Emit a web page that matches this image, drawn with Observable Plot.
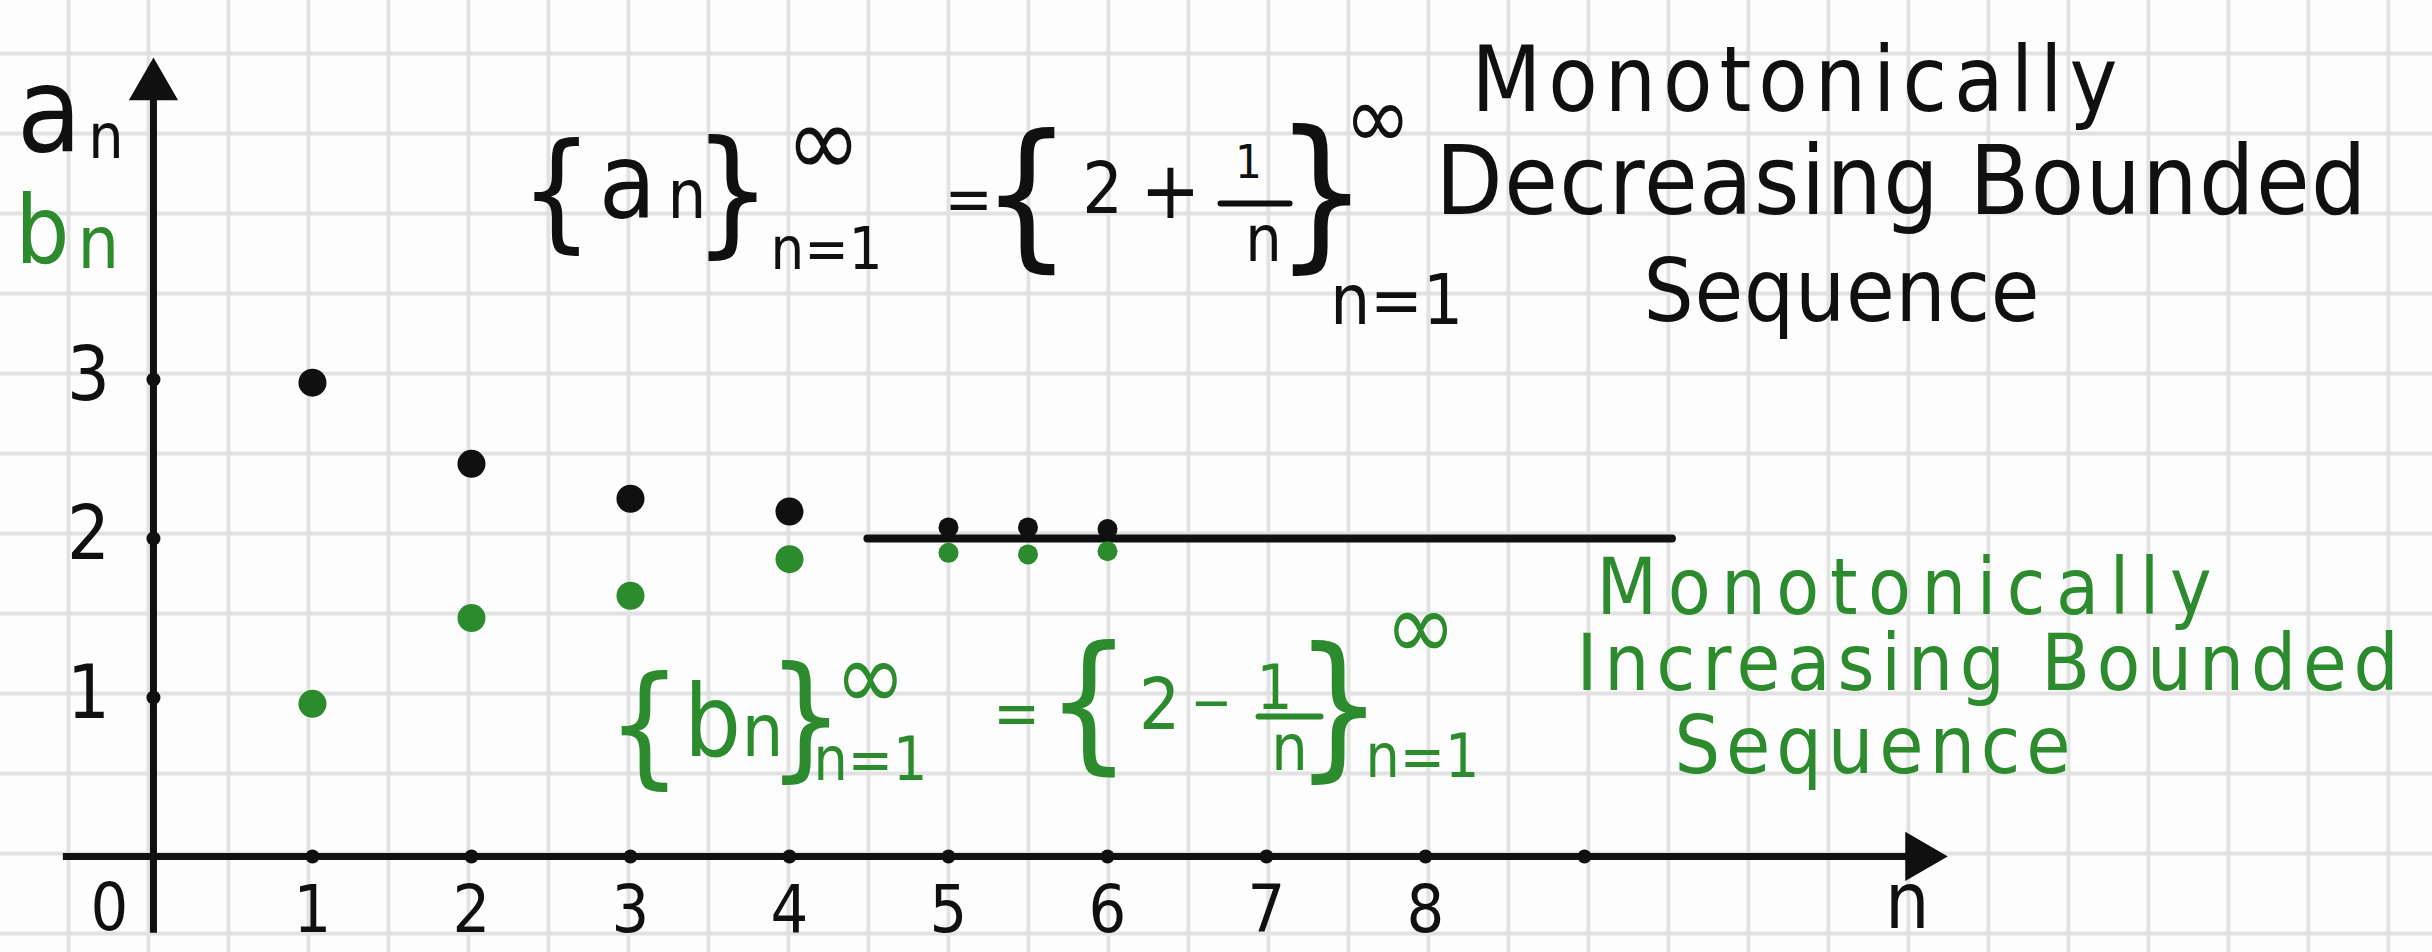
<!DOCTYPE html>
<html>
<head>
<meta charset="utf-8">
<script src="https://cdn.jsdelivr.net/npm/d3@7"></script>
<script src="https://cdn.jsdelivr.net/npm/@observablehq/plot@0.6"></script>
<style>
  html, body { margin: 0; padding: 0; background: #fdfdfd; }
  #chart svg { display: block; }
</style>
</head>
<body>
<div id="chart"></div>
<script>
// ---- sequence terms -------------------------------------------------------
const nValues = [1, 2, 3, 4];
const aValues = [2.98, 2.47, 2.25, 2.17];   // a_n = 2 + 1/n (decreasing)
const bValues = [0.96, 1.50, 1.64, 1.87];   // b_n = 2 - 1/n (increasing)

// the "..." terms crowding onto the bound
const tailN = [5, 5.5, 6];
const tailA = [2.07, 2.07, 2.06];
const tailB = [1.91, 1.90, 1.92];

// common bound y = 2
const boundValue = 2;
const boundFrom = 4.49;
const boundTo = 9.55;

// axes
const xTicks = [1, 2, 3, 4, 5, 6, 7, 8, 9];
const xTickLabels = ["1", "2", "3", "4", "5", "6", "7", "8"];
const yTicks = [1, 2, 3];
const yTickLabels = ["1", "2", "3"];
const xAxisFrom = -0.57, xAxisTip = 11.27;
const yAxisFrom = -0.48, yAxisTip = 5.01;

// ---- page layout ----------------------------------------------------------
const W = 2432, H = 952;
const xDomain = [-0.962, 14.333];
const yDomain = [-0.604, 5.384];
const pxPerUnit = W / (xDomain[1] - xDomain[0]);

const INK = "#101010";
const GREEN = "#2b8b2d";
const GRID = "#e2e2e2";
const FONT = "'DejaVu Sans Condensed', 'DejaVu Sans', sans-serif";

// graph-paper grid, one square per half unit
const gridStep = 0.5031;
const gridX = d3.range(-2, 29).map(k => -0.031 + k * gridStep);
const gridY = d3.range(0, 12).map(k => 5.050 - k * gridStep);

// written descriptions beside each sequence (w = line width in n units)
const descriptions = [
  {t: "Monotonically", x: 8.289, y: 4.692, w: 4.063, s: 90, c: INK},
  {t: "Decreasing Bounded", x: 8.063, y: 4.044, w: 5.855, s: 97, c: INK},
  {t: "Sequence", x: 9.371, y: 3.371, w: 2.491, s: 88, c: INK},
  {t: "Monotonically", x: 9.075, y: 1.528, w: 3.868, s: 78, c: GREEN},
  {t: "Increasing Bounded", x: 8.950, y: 1.050, w: 5.170, s: 79, c: GREEN},
  {t: "Sequence", x: 9.566, y: 0.522, w: 2.491, s: 80, c: GREEN}
];

// {a_n} = {2 + 1/n} and {b_n} = {2 - 1/n}, piece by piece
const formulaA = [
  {t: "{", x: 2.535, y: 3.906, s: 128},
  {t: "a", x: 2.981, y: 4.013, s: 104},
  {t: "n", x: 3.355, y: 4.019, s: 68},
  {t: "}", x: 3.642, y: 3.893, s: 138},
  {t: "∞", x: 4.214, y: 4.283, s: 100},
  {t: "n=1", x: 4.233, y: 3.698, s: 59},
  {t: "=", x: 5.126, y: 3.994, s: 64},
  {t: "{", x: 5.491, y: 3.818, s: 160},
  {t: "2", x: 5.969, y: 4.050, s: 71},
  {t: "+", x: 6.396, y: 4.019, s: 80},
  {t: "1", x: 6.887, y: 4.270, s: 47},
  {t: "n", x: 6.981, y: 3.748, s: 64},
  {t: "}", x: 7.346, y: 3.818, s: 165},
  {t: "∞", x: 7.698, y: 4.459, s: 89},
  {t: "n=1", x: 7.818, y: 3.352, s: 70}
];
const formulaB = [
  {t: "{", x: 3.088, y: 0.547, s: 131},
  {t: "b", x: 3.516, y: 0.629, s: 100},
  {t: "n", x: 3.830, y: 0.629, s: 73},
  {t: "}", x: 4.101, y: 0.585, s: 135},
  {t: "∞", x: 4.509, y: 0.925, s: 95},
  {t: "n=1", x: 4.509, y: 0.484, s: 60},
  {t: "=", x: 5.428, y: 0.767, s: 62},
  {t: "{", x: 5.881, y: 0.648, s: 150},
  {t: "2", x: 6.327, y: 0.799, s: 72},
  {t: "−", x: 6.654, y: 0.849, s: 55},
  {t: "1", x: 7.050, y: 0.925, s: 63},
  {t: "n", x: 7.145, y: 0.547, s: 64},
  {t: "}", x: 7.453, y: 0.616, s: 156},
  {t: "∞", x: 7.969, y: 1.239, s: 95},
  {t: "n=1", x: 7.981, y: 0.503, s: 60}
];
const fractionBars = [
  {x1: 6.711, x2: 7.145, y: 4.107, c: INK},
  {x1: 6.950, x2: 7.340, y: 0.881, c: GREEN}
];

// axis titles a_n / b_n
const axisTitles = [
  {t: "a", x: -0.860, y: 4.440, s: 118, c: INK},
  {t: "n", x: -0.410, y: 4.396, s: 62, c: INK},
  {t: "b", x: -0.870, y: 3.730, s: 95, c: GREEN},
  {t: "n", x: -0.478, y: 3.704, s: 73, c: GREEN}
];

// ---- tables for the marks -------------------------------------------------
const aTerms = nValues.map((n, i) => ({n, v: aValues[i]}));
const bTerms = nValues.map((n, i) => ({n, v: bValues[i]}));
const aTail = tailN.map((n, i) => ({n, v: tailA[i]}));
const bTail = tailN.map((n, i) => ({n, v: tailB[i]}));
const xLabelRows = xTickLabels.map((t, i) => ({n: xTicks[i], t}));
const yLabelRows = yTickLabels.map((t, i) => ({v: yTicks[i], t}));

const isBrace = t => t === "{" || t === "}";
const textPieces = (rows, color) => rows.map(p =>
  Plot.text([p], {
    x: "x", y: "y", text: "t", fontSize: p.s, fill: color,
    fontFamily: FONT, fontWeight: isBrace(p.t) ? 300 : 400,
    textAnchor: "middle", lineAnchor: "bottom"
  }));

const chart = Plot.plot({
  width: W,
  height: H,
  margin: 0,
  x: {domain: xDomain, axis: null},
  y: {domain: yDomain, axis: null},
  style: {background: "#fdfdfd", overflow: "hidden"},
  marks: [
    // graph paper
    Plot.ruleX(gridX, {stroke: GRID, strokeWidth: 4}),
    Plot.ruleY(gridY, {stroke: GRID, strokeWidth: 4}),

    // axes with arrowheads
    Plot.link([{x1: xAxisFrom, x2: xAxisTip - 0.12, y: 0}],
      {x1: "x1", x2: "x2", y1: "y", y2: "y", stroke: INK, strokeWidth: 7}),
    Plot.link([{y1: yAxisFrom, y2: yAxisTip - 0.12, x: 0}],
      {y1: "y1", y2: "y2", x1: "x", x2: "x", stroke: INK, strokeWidth: 7}),
    Plot.dot([{x: xAxisTip, y: 0}],
      {x: "x", y: "y", symbol: "triangle", r: 17, rotate: 90, dx: -26, fill: INK, stroke: INK, strokeWidth: 2}),
    Plot.dot([{x: 0, y: yAxisTip}],
      {x: "x", y: "y", symbol: "triangle", r: 17, dy: 26, fill: INK, stroke: INK, strokeWidth: 2}),
    Plot.dot(xTicks, {x: d => d, y: 0, r: 7, fill: INK}),
    Plot.dot(yTicks, {x: 0, y: d => d, r: 7, fill: INK}),

    // tick labels
    Plot.text(xLabelRows, {x: "n", y: -0.478, text: "t", fontSize: 66, fill: INK,
      fontFamily: FONT, lineAnchor: "bottom"}),
    Plot.text(["0"], {x: -0.277, y: -0.465, text: d => d, fontSize: 66, fill: INK,
      fontFamily: FONT, lineAnchor: "bottom"}),
    Plot.text(["n"], {x: 11.03, y: -0.453, text: d => d, fontSize: 78, fill: INK,
      fontFamily: FONT, lineAnchor: "bottom"}),
    Plot.text(yLabelRows, {x: -0.409, y: d => d.v - 0.126, text: "t", fontSize: 75, fill: INK,
      fontFamily: FONT, lineAnchor: "bottom"}),

    // axis titles
    ...axisTitles.map(p => Plot.text([p], {x: "x", y: "y", text: "t", fontSize: p.s, fill: p.c,
      fontFamily: FONT, textAnchor: "start", lineAnchor: "bottom"})),

    // the bound
    Plot.link([{x1: boundFrom, x2: boundTo, y: boundValue}],
      {x1: "x1", x2: "x2", y1: "y", y2: "y", stroke: INK, strokeWidth: 8, strokeLinecap: "round"}),

    // sequence terms
    Plot.dot(aTerms, {x: "n", y: "v", r: 14, fill: INK}),
    Plot.dot(bTerms, {x: "n", y: "v", r: 14, fill: GREEN}),
    Plot.dot(aTail, {x: "n", y: "v", r: 10, fill: INK}),
    Plot.dot(bTail, {x: "n", y: "v", r: 10, fill: GREEN}),

    // formulas
    ...textPieces(formulaA, INK),
    ...textPieces(formulaB, GREEN),
    ...fractionBars.map(b => Plot.link([b],
      {x1: "x1", x2: "x2", y1: "y", y2: "y", stroke: b.c, strokeWidth: 6, strokeLinecap: "round"})),

    // descriptions
    ...descriptions.map(d => Plot.text([d], {x: "x", y: "y", text: "t",
      fontSize: d.s, fill: d.c, fontFamily: FONT,
      textAnchor: "start", lineAnchor: "bottom"}))
  ]
});

// hand lettering is widely spaced: stretch each description line to its width.
// Lines with the same wording are matched in drawing order.
const textNodes = Array.from(chart.querySelectorAll("text"));
const used = new Set();
descriptions.forEach(d => {
  const node = textNodes.find(el => !used.has(el) && el.textContent === d.t);
  if (!node) return;
  used.add(node);
  node.setAttribute("textLength", d.w * pxPerUnit);
  node.setAttribute("lengthAdjust", "spacing");
});

document.getElementById("chart").appendChild(chart);
</script>
</body>
</html>
